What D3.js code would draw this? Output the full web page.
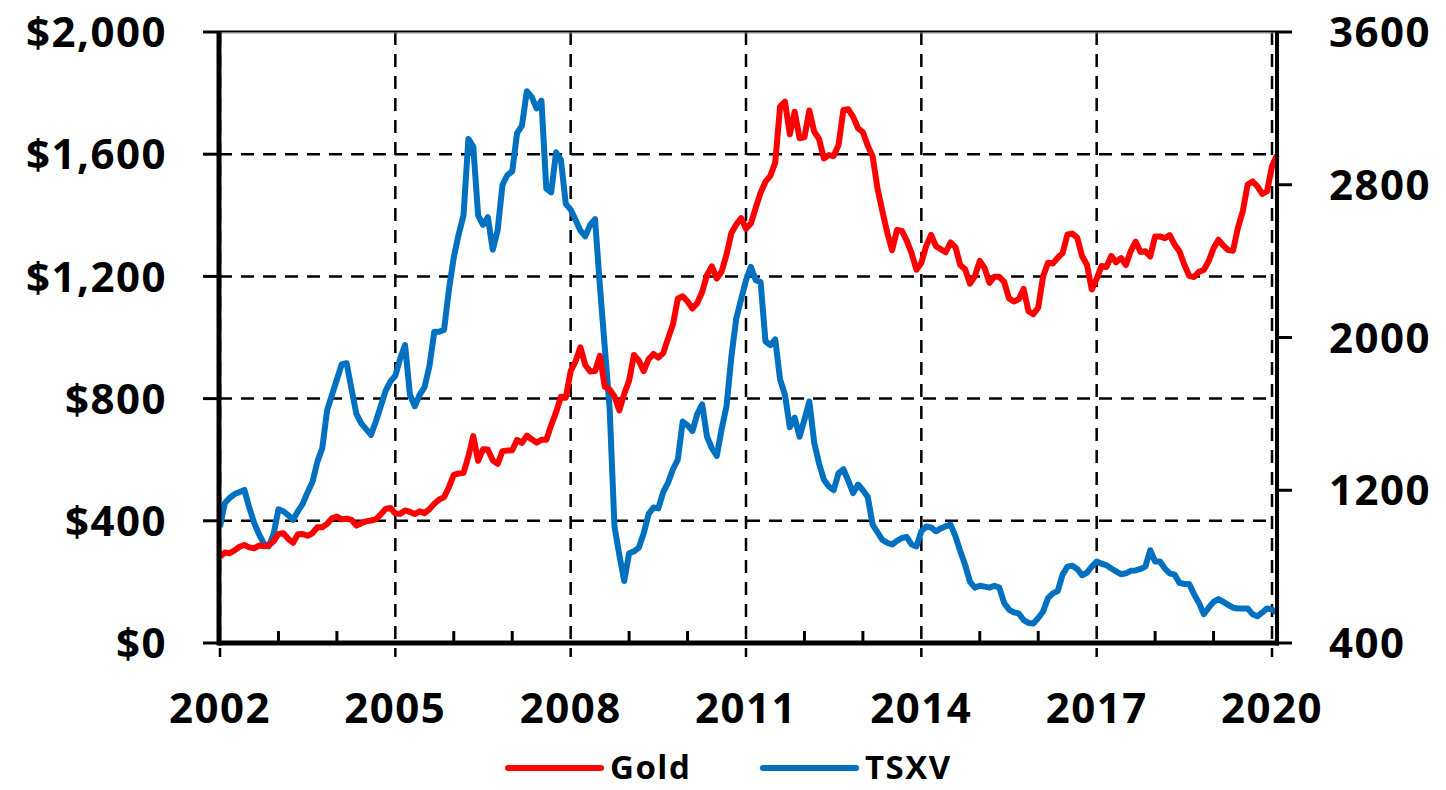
<!DOCTYPE html>
<html lang="en">
<head>
<meta charset="UTF-8"/>
<title>Gold vs TSXV</title>
<style>
    body { margin: 0; background: #fff; }
    svg { display: block; }
    text { font-family: "Open Sans", "Lato", sans-serif; font-weight: bold; fill: #000; }
</style>
</head>
<body>
<svg width="1446" height="790"></svg>
<script src="https://d3js.org/d3.v7.min.js"></script>
<script>
// monthly values, Jan 2002 .. Feb 2020
const startYear = 2002;
const gold = [
    282, 296, 294, 303, 315, 321, 313, 310, 319, 317, 319, 333,
    357, 359, 341, 328, 356, 357, 351, 360, 379, 379, 390, 408,
    414, 405, 407, 403, 384, 392, 398, 401, 405, 421, 439, 442,
    424, 423, 434, 429, 422, 431, 425, 438, 456, 470, 477, 510,
    550, 555, 557, 611, 677, 596, 634, 633, 598, 586, 628, 630,
    631, 665, 655, 679, 667, 656, 665, 665, 713, 755, 806, 803,
    890, 922, 968, 910, 889, 890, 940, 839, 830, 807, 761, 816,
    859, 943, 924, 890, 929, 946, 934, 949, 997, 1043, 1127, 1135,
    1118, 1095, 1113, 1149, 1205, 1233, 1193, 1216, 1271, 1342, 1370, 1391,
    1356, 1373, 1424, 1474, 1510, 1529, 1573, 1756, 1772, 1665, 1739, 1652,
    1656, 1743, 1674, 1650, 1586, 1597, 1594, 1630, 1745, 1747, 1722, 1685,
    1672, 1628, 1593, 1488, 1414, 1343, 1286, 1352, 1349, 1317, 1276, 1222,
    1244, 1300, 1336, 1299, 1289, 1279, 1311, 1296, 1237, 1223, 1176, 1201,
    1251, 1227, 1179, 1199, 1199, 1182, 1128, 1118, 1125, 1159, 1086, 1076,
    1098, 1200, 1245, 1242, 1261, 1276, 1337, 1340, 1327, 1267, 1238, 1157,
    1192, 1234, 1231, 1267, 1246, 1260, 1237, 1283, 1314, 1280, 1282, 1265,
    1331, 1331, 1325, 1335, 1304, 1282, 1238, 1202, 1198, 1215, 1221, 1250,
    1292, 1320, 1301, 1286, 1284, 1359, 1413, 1500, 1511, 1495, 1470, 1479,
    1561, 1597
];
const tsxv = [
    1010, 1133, 1160, 1180, 1190, 1202, 1110, 1030, 970, 920, 906, 970,
    1100, 1090, 1070, 1045, 1090, 1130, 1190, 1245, 1350, 1420, 1620, 1700,
    1780, 1860, 1865, 1730, 1600, 1550, 1520, 1490, 1560, 1640, 1720, 1770,
    1800, 1890, 1960, 1700, 1640, 1700, 1740, 1850, 2030, 2030, 2040, 2250,
    2420, 2540, 2640, 3040, 3000, 2640, 2590, 2630, 2460, 2560, 2800, 2850,
    2870, 3070, 3110, 3290, 3260, 3200, 3240, 2780, 2760, 2970, 2930, 2700,
    2670, 2615, 2560, 2530, 2590, 2620, 2270, 1950, 1630, 1010, 860, 725,
    870, 880, 900, 975, 1075, 1110, 1105, 1190, 1240, 1310, 1360, 1560,
    1540, 1510, 1600, 1650, 1480, 1420, 1380, 1520, 1640, 1900, 2100, 2200,
    2300, 2370, 2300, 2290, 1980, 1960, 1990, 1780, 1700, 1530, 1580, 1480,
    1570, 1665, 1450, 1340, 1255, 1220, 1200, 1290, 1310, 1250, 1185, 1230,
    1200, 1165, 1020, 980, 940, 925, 916, 935, 950, 955, 916, 906,
    985, 1010, 1005, 985, 1000, 1011, 1020, 960, 880, 808, 720, 690,
    700, 695, 690, 700, 690, 610, 575, 561, 555, 520, 505, 502,
    531, 565, 635, 660, 672, 758, 800, 805, 788, 755, 768, 800,
    827, 815, 808, 790, 775, 760, 765, 778, 780, 788, 800, 886,
    827, 827, 790, 765, 758, 715, 709, 709, 655, 610, 551, 585,
    615, 630, 615, 600, 585, 581, 581, 581, 551, 540, 560, 581,
    575, 561
];
const yearTicks = [2002, 2005, 2008, 2011, 2014, 2017, 2020];
const minorYears = d3.range(2003, 2020).filter(y => !yearTicks.includes(y));
const goldTicks = [0, 400, 800, 1200, 1600, 2000];
const tsxvTicks = [400, 1200, 2000, 2800, 3600];
const seriesNames = ["Gold", "TSXV"];
const seriesColors = ["#ff0000", "#0070c0"];

const svg = d3.select("svg");
const plotLeft = 219, plotRight = 1277, plotTop = 32, plotBottom = 643;

const x = d3.scaleLinear().domain([2002, 2020]).range([220, 1272]);
const yGold = d3.scaleLinear().domain([0, 2000]).range([plotBottom, plotTop]);
const yTsxv = d3.scaleLinear().domain([400, 3600]).range([plotBottom, plotTop]);

const dateOf = i => startYear + i / 12;

// grid
const grid = svg.append("g").attr("stroke", "#000").attr("stroke-width", 2.5)
    .attr("stroke-dasharray", "13,9");
grid.selectAll(".hg").data(goldTicks.slice(1, -1)).enter().append("line")
    .attr("x1", plotLeft).attr("x2", plotRight)
    .attr("y1", d => yGold(d)).attr("y2", d => yGold(d));
grid.selectAll(".vg").data(yearTicks).enter().append("line")
    .attr("x1", d => x(d)).attr("x2", d => x(d))
    .attr("y1", plotTop).attr("y2", plotBottom + 14);

// series
const lineGold = d3.line().x((d, i) => x(dateOf(i))).y(d => yGold(d));
const lineTsxv = d3.line().x((d, i) => x(dateOf(i))).y(d => yTsxv(d));
svg.append("path").datum(tsxv).attr("d", lineTsxv)
    .attr("fill", "none").attr("stroke", seriesColors[1]).attr("stroke-width", 6)
    .attr("stroke-linejoin", "round");
svg.append("path").datum(gold).attr("d", lineGold)
    .attr("fill", "none").attr("stroke", seriesColors[0]).attr("stroke-width", 6)
    .attr("stroke-linejoin", "round");

// frame
svg.append("line").attr("x1", plotLeft).attr("x2", plotRight).attr("y1", plotTop - 0.5).attr("y2", plotTop - 0.5)
    .attr("stroke", "#000").attr("stroke-width", 2);
svg.append("line").attr("x1", plotLeft).attr("x2", plotRight).attr("y1", plotTop + 1).attr("y2", plotTop + 1)
    .attr("stroke", "#888").attr("stroke-width", 1);
svg.append("line").attr("x1", plotLeft).attr("x2", plotLeft).attr("y1", plotTop - 1).attr("y2", plotBottom + 2.5)
    .attr("stroke", "#000").attr("stroke-width", 5);
svg.append("line").attr("x1", plotRight).attr("x2", plotRight).attr("y1", plotTop - 1).attr("y2", plotBottom + 2.5)
    .attr("stroke", "#000").attr("stroke-width", 4);
svg.append("line").attr("x1", plotLeft).attr("x2", plotRight + 2).attr("y1", plotBottom).attr("y2", plotBottom)
    .attr("stroke", "#000").attr("stroke-width", 5);

// ticks
const ticks = svg.append("g").attr("stroke", "#000").attr("stroke-width", 3);
ticks.selectAll(".lt").data(goldTicks).enter().append("line")
    .attr("x1", 203).attr("x2", plotLeft).attr("y1", d => yGold(d)).attr("y2", d => yGold(d));
ticks.selectAll(".rt").data(tsxvTicks).enter().append("line")
    .attr("x1", plotRight).attr("x2", 1292).attr("y1", d => yTsxv(d)).attr("y2", d => yTsxv(d));
ticks.selectAll(".mt").data(minorYears).enter().append("line")
    .attr("x1", d => x(d)).attr("x2", d => x(d)).attr("y1", plotBottom - 12).attr("y2", plotBottom);

// labels
const fmt = d3.format("$,");
svg.append("g").selectAll("text").data(goldTicks).enter().append("text")
    .attr("x", 167).attr("y", d => yGold(d)).attr("dy", "0.36em")
    .attr("text-anchor", "end").attr("font-size", 42).attr("letter-spacing", 1.5)
    .text(d => fmt(d));
svg.append("g").selectAll("text").data(tsxvTicks).enter().append("text")
    .attr("x", 1329).attr("y", d => yTsxv(d)).attr("dy", "0.36em")
    .attr("text-anchor", "start").attr("font-size", 42).attr("letter-spacing", 1.5)
    .text(d => d);
svg.append("g").selectAll("text").data(yearTicks).enter().append("text")
    .attr("x", d => x(d)).attr("y", 723)
    .attr("text-anchor", "middle").attr("font-size", 42).attr("letter-spacing", 1.5)
    .text(d => d);

// legend
const legend = svg.append("g");
const legendX = [508, 763];
seriesNames.forEach((name, i) => {
    legend.append("line").attr("x1", legendX[i]).attr("x2", legendX[i] + 93)
        .attr("y1", 768).attr("y2", 768)
        .attr("stroke", seriesColors[i]).attr("stroke-width", 6).attr("stroke-linecap", "round");
    legend.append("text").attr("x", legendX[i] + 102).attr("y", 779)
        .attr("font-size", 33).attr("letter-spacing", 1.5).text(name);
});
</script>
</body>
</html>
